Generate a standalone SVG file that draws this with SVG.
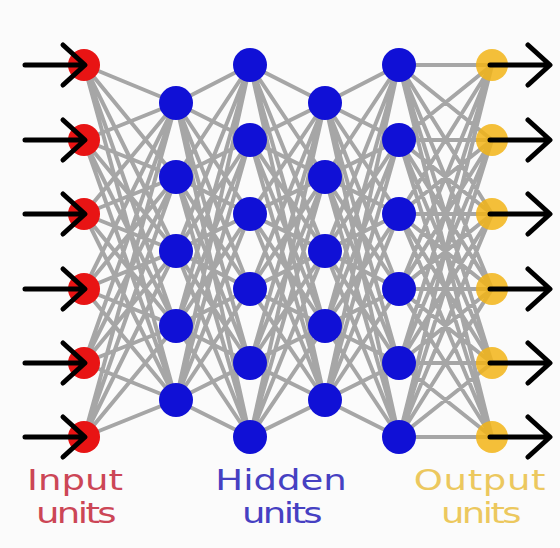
<svg xmlns="http://www.w3.org/2000/svg" width="560" height="548" viewBox="0 0 560 548">
<style>
.edge{fill:none;stroke:#a6a6a6;stroke-width:4;stroke-linecap:round}
.arr{fill:none;stroke:#000;stroke-width:5;stroke-linecap:round;stroke-linejoin:round}
.in{fill:#e81414}
.hid{fill:#1010d6}
.out{fill:#f2b416;fill-opacity:0.85}
.lbl{font-family:"DejaVu Sans",sans-serif;font-size:28.5px;text-anchor:middle}
.u{letter-spacing:-2px}
</style>
<rect width="560" height="548" fill="#fbfbfb"/>
<g id="connectors">
<path class="edge" d="M84 65L176 103M84 65L176 177M84 65L176 251M84 65L176 326M84 65L176 400M84 140L176 103M84 140L176 177M84 140L176 251M84 140L176 326M84 140L176 400M84 214L176 103M84 214L176 177M84 214L176 251M84 214L176 326M84 214L176 400M84 289L176 103M84 289L176 177M84 289L176 251M84 289L176 326M84 289L176 400M84 363L176 103M84 363L176 177M84 363L176 251M84 363L176 326M84 363L176 400M84 437L176 103M84 437L176 177M84 437L176 251M84 437L176 326M84 437L176 400"/>
<path class="edge" d="M176 103L250 65M176 103L250 140M176 103L250 214M176 103L250 289M176 103L250 363M176 103L250 437M176 177L250 65M176 177L250 140M176 177L250 214M176 177L250 289M176 177L250 363M176 177L250 437M176 251L250 65M176 251L250 140M176 251L250 214M176 251L250 289M176 251L250 363M176 251L250 437M176 326L250 65M176 326L250 140M176 326L250 214M176 326L250 289M176 326L250 363M176 326L250 437M176 400L250 65M176 400L250 140M176 400L250 214M176 400L250 289M176 400L250 363M176 400L250 437"/>
<path class="edge" d="M250 65L325 103M250 65L325 177M250 65L325 251M250 65L325 326M250 65L325 400M250 140L325 103M250 140L325 177M250 140L325 251M250 140L325 326M250 140L325 400M250 214L325 103M250 214L325 177M250 214L325 251M250 214L325 326M250 214L325 400M250 289L325 103M250 289L325 177M250 289L325 251M250 289L325 326M250 289L325 400M250 363L325 103M250 363L325 177M250 363L325 251M250 363L325 326M250 363L325 400M250 437L325 103M250 437L325 177M250 437L325 251M250 437L325 326M250 437L325 400"/>
<path class="edge" d="M325 103L399 65M325 103L399 140M325 103L399 214M325 103L399 289M325 103L399 363M325 103L399 437M325 177L399 65M325 177L399 140M325 177L399 214M325 177L399 289M325 177L399 363M325 177L399 437M325 251L399 65M325 251L399 140M325 251L399 214M325 251L399 289M325 251L399 363M325 251L399 437M325 326L399 65M325 326L399 140M325 326L399 214M325 326L399 289M325 326L399 363M325 326L399 437M325 400L399 65M325 400L399 140M325 400L399 214M325 400L399 289M325 400L399 363M325 400L399 437"/>
<path class="edge" d="M399 65L492 65M399 65L492 140M399 65L492 214M399 65L492 289M399 65L492 363M399 65L492 437M399 140L492 65M399 140L492 140M399 140L492 214M399 140L492 289M399 140L492 363M399 140L492 437M399 214L492 65M399 214L492 140M399 214L492 214M399 214L492 289M399 214L492 363M399 214L492 437M399 289L492 65M399 289L492 140M399 289L492 214M399 289L492 289M399 289L492 363M399 289L492 437M399 363L492 65M399 363L492 140M399 363L492 214M399 363L492 289M399 363L492 363M399 363L492 437M399 437L492 65M399 437L492 140M399 437L492 214M399 437L492 289M399 437L492 363M399 437L492 437"/>
</g>
<g id="input-layer">
<circle class="in" cx="84" cy="65" r="16"/>
<circle class="in" cx="84" cy="140" r="16"/>
<circle class="in" cx="84" cy="214" r="16"/>
<circle class="in" cx="84" cy="289" r="16"/>
<circle class="in" cx="84" cy="363" r="16"/>
<circle class="in" cx="84" cy="437" r="16"/>
</g>
<g id="hidden-layer-1">
<circle class="hid" cx="176" cy="103" r="17"/>
<circle class="hid" cx="176" cy="177" r="17"/>
<circle class="hid" cx="176" cy="251" r="17"/>
<circle class="hid" cx="176" cy="326" r="17"/>
<circle class="hid" cx="176" cy="400" r="17"/>
</g>
<g id="hidden-layer-2">
<circle class="hid" cx="250" cy="65" r="17"/>
<circle class="hid" cx="250" cy="140" r="17"/>
<circle class="hid" cx="250" cy="214" r="17"/>
<circle class="hid" cx="250" cy="289" r="17"/>
<circle class="hid" cx="250" cy="363" r="17"/>
<circle class="hid" cx="250" cy="437" r="17"/>
</g>
<g id="hidden-layer-3">
<circle class="hid" cx="325" cy="103" r="17"/>
<circle class="hid" cx="325" cy="177" r="17"/>
<circle class="hid" cx="325" cy="251" r="17"/>
<circle class="hid" cx="325" cy="326" r="17"/>
<circle class="hid" cx="325" cy="400" r="17"/>
</g>
<g id="hidden-layer-4">
<circle class="hid" cx="399" cy="65" r="17"/>
<circle class="hid" cx="399" cy="140" r="17"/>
<circle class="hid" cx="399" cy="214" r="17"/>
<circle class="hid" cx="399" cy="289" r="17"/>
<circle class="hid" cx="399" cy="363" r="17"/>
<circle class="hid" cx="399" cy="437" r="17"/>
</g>
<g id="output-layer">
<circle class="out" cx="492" cy="65" r="16"/>
<circle class="out" cx="492" cy="140" r="16"/>
<circle class="out" cx="492" cy="214" r="16"/>
<circle class="out" cx="492" cy="289" r="16"/>
<circle class="out" cx="492" cy="363" r="16"/>
<circle class="out" cx="492" cy="437" r="16"/>
</g>
<g id="input-arrows">
<path class="arr" d="M25 65H84M63 45L85 65L63 85"/>
<path class="arr" d="M25 140H84M63 120L85 140L63 160"/>
<path class="arr" d="M25 214H84M63 194L85 214L63 234"/>
<path class="arr" d="M25 289H84M63 269L85 289L63 309"/>
<path class="arr" d="M25 363H84M63 343L85 363L63 383"/>
<path class="arr" d="M25 437H84M63 417L85 437L63 457"/>
</g>
<g id="output-arrows">
<path class="arr" d="M490 65H549M528 45L550 65L528 85"/>
<path class="arr" d="M490 140H549M528 120L550 140L528 160"/>
<path class="arr" d="M490 214H549M528 194L550 214L528 234"/>
<path class="arr" d="M490 289H549M528 269L550 289L528 309"/>
<path class="arr" d="M490 363H549M528 343L550 363L528 383"/>
<path class="arr" d="M490 437H549M528 417L550 437L528 457"/>
</g>
<g id="labels">
<text id="label-input" class="lbl" fill="#cc4656" transform="translate(75 0) scale(1.3 1)"><tspan x="0" y="490">Input</tspan><tspan class="u" x="0" y="523">units</tspan></text>
<text id="label-hidden" class="lbl" fill="#4640c2" transform="translate(281 0) scale(1.3 1)"><tspan x="0" y="490">Hidden</tspan><tspan class="u" x="0" y="523">units</tspan></text>
<text id="label-output" class="lbl" fill="#ecc85e" transform="translate(480 0) scale(1.3 1)"><tspan x="0" y="490" style="letter-spacing:0.5px">Output</tspan><tspan class="u" x="0" y="523">units</tspan></text>
</g>
</svg>
